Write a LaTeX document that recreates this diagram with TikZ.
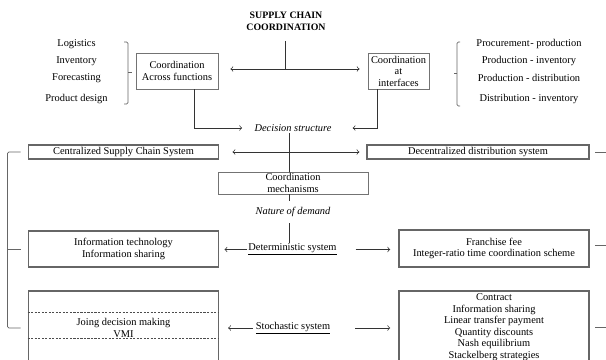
\documentclass[tikz,border=0pt]{standalone}
\usepackage{fontspec}
\setmainfont{Liberation Serif}
\usepackage{tikz}

\begin{document}
\begin{tikzpicture}[x=0.025cm, y=-0.025cm, font=\fontsize{7.4}{8.2}\selectfont,
	bigbox/.style={draw=black!60, line width=1.1pt, minimum width=4.75cm, align=center, inner sep=0pt},
	smallbox/.style={draw=black!55, line width=0.6pt, align=center, inner sep=0pt},
	txt/.style={inner sep=1pt, align=center},
	conn/.style={draw=black!80, line width=0.5pt},
	brk/.style={draw=black!60, line width=0.5pt, rounded corners=1pt}]
	\clip (0,0) rectangle (606,360);

	\node[txt, font=\fontsize{7}{8.4}\selectfont\bfseries] (title) at (286,21) {SUPPLY CHAIN\\COORDINATION};
	\coordinate (hub) at (285,69);
	\coordinate (spine) at (289,0);
	\node[smallbox, minimum width=2.05cm, minimum height=0.9cm] (across) at (177,71) {Coordination\\Across functions};
	\node[smallbox, minimum width=1.525cm, minimum height=0.9cm] (interf) at (398.5,71) {Coordination\\at\\interfaces};

	\node[txt] (logist) at (76.5,44) {Logistics};
	\node[txt] (invent) at (76.5,61) {Inventory};
	\node[txt] (forec) at (76.5,78) {Forecasting};
	\node[txt] (prodd) at (76.5,99) {Product design};
	\draw[brk] (124,42) -- (128,42) -- (128,104) -- (124,104);
	\draw[brk] (128,72) -- (132,72);

	\node[txt] (procpr) at (529,44) {Procurement{\kern0.5pt}- production};
	\node[txt] (prodinv) at (529,61) {Production - inventory};
	\node[txt] (proddis) at (529,78) {Production - distribution};
	\node[txt] (disinv) at (529,99) {Distribution - inventory};
	\draw[brk] (460,42) -- (457,42) -- (457,106) -- (460,106);
	\draw[brk] (457,73) -- (454,73);

	\draw[conn] (title.south -| hub) ++(0,9) -- (hub);
	\draw[conn, <->, shorten <=0.3cm, shorten >=0.2cm] (across.east |- hub) -- (interf.west |- hub);

	\node[txt, font=\fontsize{7.4}{8.2}\selectfont\itshape] (decis) at (293,128) {Decision structure};
	\draw[conn, ->, shorten >=0.27cm] (across.south) ++(17,0) |- (decis.west);
	\draw[conn, ->, shorten >=0.49cm] (interf.south) ++(-21.5,0) |- (decis.east);

	\node[bigbox, minimum height=0.35cm] (central) at (123.5,152) {Centralized Supply Chain System};
	\node[bigbox, minimum width=5.55cm, minimum height=0.35cm] (decent) at (478,152) {Decentralized distribution system};
	\draw[conn, <->, shorten <=0.33cm, shorten >=0.17cm] (central.east) -- (decent.west);

	\node[smallbox, minimum width=3.75cm, minimum height=0.55cm] (mech) at (293,183) {Coordination\\mechanisms};
	\draw[conn] (decis.south -| spine) -- (mech.north -| spine);

	\node[txt, font=\fontsize{7.4}{8.2}\selectfont\itshape, inner sep=0.15cm] (nature) at (293,212) {Nature of demand};
	\draw[conn] (mech.south -| spine) -- (nature.north -| spine);

	\node[bigbox, minimum height=0.9cm] (infot) at (123.5,249) {Information technology\\Information sharing};
	\node[bigbox, minimum height=0.925cm] (franch) at (494,248.5) {Franchise fee\\Integer-ratio time coordination scheme};
	\node[txt, inner sep=0.5pt] (determ) at (292.5,249.5) {\underline{Deterministic system}};
	\draw[conn] (nature.south -| spine) -- (determ.north -| spine);
	\draw[conn, ->, shorten >=0.13cm] (determ.west) -- (determ.west -| infot.east);
	\draw[conn, ->, shorten <=0.45cm, shorten >=0.2cm] (determ.east) -- (determ.east -| franch.west);

	\node[bigbox, minimum height=1.85cm] (joint) at (123.5,328) {Joing decision making\\VMI};
	\draw[black!70, line width=0.4pt, dash pattern=on 1.5pt off 1pt] (joint.west |- 0,312) -- (joint.east |- 0,312);
	\draw[black!70, line width=0.4pt, dash pattern=on 1.5pt off 1pt] (joint.west |- 0,338) -- (joint.east |- 0,338);
	\node[bigbox, minimum height=1.8cm] (contr) at (494,327) {Contract\\Information sharing\\Linear transfer payment\\Quantity discounts\\Nash equilibrium\\Stackelberg strategies};
	\node[txt, inner sep=0.5pt] (stoch) at (293,328) {\underline{Stochastic system}};
	\draw[conn, ->, shorten <=0.05cm, shorten >=0.22cm] (stoch.west) -- (stoch.west -| joint.east);
	\draw[conn, ->, shorten <=0.6cm, shorten >=0.2cm] (stoch.east) -- (stoch.east -| contr.west);

	\draw[brk] ([xshift=-0.18cm]central.west) -- ++(-13,0) |- ([xshift=-0.18cm]joint.west);
	\draw[brk] ([xshift=-0.18cm]infot.west) -- ++(-13,0);
	\draw[brk] ([xshift=0.13cm]decent.east) -- ++(13,0);
	\draw[brk] ([shift={(5,-3.5)}]franch.east) -- ++(13,0);
	\draw[brk] ([xshift=0.13cm]contr.east) -- ++(13,0);
\end{tikzpicture}
\end{document}
